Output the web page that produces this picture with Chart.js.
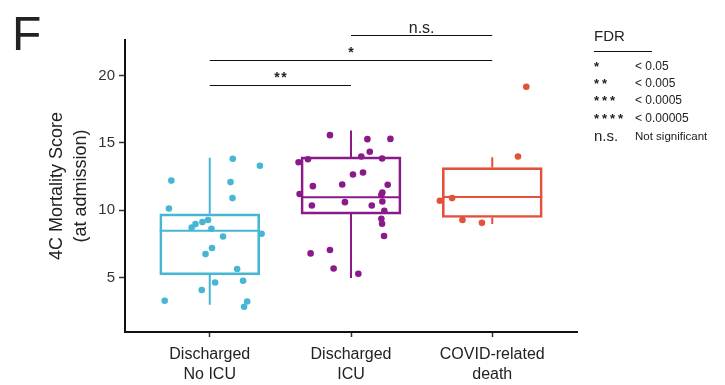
<!DOCTYPE html>
<html>
<head>
<meta charset="utf-8">
<script src="https://cdn.jsdelivr.net/npm/chart.js@4.4.1/dist/chart.umd.min.js"></script>
<style>
html, body { margin: 0; padding: 0; background: #fff; }
#wrap { position: relative; width: 725px; height: 385px; }
</style>
</head>
<body>
<div id="wrap"><canvas id="chart" width="725" height="385"></canvas></div>
<script>
const FONT = '"Liberation Sans", Arial, Helvetica, sans-serif';

// groups on the x axis
const groupLabels = [['Discharged', 'No ICU'], ['Discharged', 'ICU'], ['COVID-related', 'death']];
const groupPos = [1, 2, 3];
const colors = ['#47b6d2', '#8b1a89', '#e2513a'];
const yTicks = [5, 10, 15, 20];

// box stats
const q1 = [5.20, 9.71, 9.46];
const q3 = [9.73, 13.96, 13.17];
const medians = [8.47, 10.97, 10.99];
const whiskerLow = [2.98, 4.96, 8.97];
const whiskerHigh = [13.9, 15.92, 13.94];

// jittered points: x = jitter position, y = score
const noIcuX = [1.163, 1.355, 0.728, 1.147, 1.161, 0.711, 0.988, 0.948, 0.899, 0.872, 1.012, 1.367, 1.094,
    1.016, 0.970, 1.194, 1.236, 1.038, 0.943, 0.681, 1.265, 1.243];
const noIcuY = [13.82, 13.30, 12.20, 12.09, 10.90, 10.13, 9.27, 9.12, 8.97, 8.72, 8.62, 8.25, 8.05,
    7.19, 6.74, 5.63, 4.76, 4.63, 4.07, 3.27, 3.22, 2.83];

const icuX = [1.851, 2.116, 2.279, 2.133, 2.073, 2.220, 1.629, 1.695, 2.085, 2.014, 2.260, 1.730, 1.938, 2.222,
    1.636, 2.215, 1.957, 2.222, 1.723, 2.147, 2.236, 2.215, 2.220, 2.234, 1.851, 1.714, 1.877, 2.052];
const icuY = [15.58, 15.28, 15.30, 14.34, 13.99, 13.84, 13.57, 13.79, 12.80, 12.65, 11.89, 11.79, 11.91, 11.31,
    11.20, 11.14, 10.60, 10.65, 10.35, 10.35, 9.96, 9.36, 8.99, 8.08, 7.04, 6.79, 5.67, 5.28];

const deathX = [3.241, 3.182, 2.716, 2.629, 2.789, 2.927];
const deathY = [19.18, 13.99, 10.90, 10.70, 9.27, 9.06];

// significance brackets
const bracketFrom = [1, 1, 2];
const bracketTo = [2, 3, 3];
const bracketLevel = [19.3, 21.15, 23.0];
const bracketLabel = ['**', '*', 'n.s.'];

// FDR key
const fdrSymbols = ['*', '**', '***', '****', 'n.s.'];
const fdrText = ['< 0.05', '< 0.005', '< 0.0005', '< 0.00005', 'Not significant'];

function toPoints(xs, ys) {
    return xs.map((x, i) => ({ x: x, y: ys[i] }));
}

function drawStars(ctx, cx, cy, n, size, gap) {
    ctx.font = 'bold ' + size + 'px ' + FONT;
    ctx.textAlign = 'center';
    ctx.textBaseline = 'alphabetic';
    for (let i = 0; i < n; i++) {
        ctx.fillText('*', cx + (i - (n - 1) / 2) * gap, cy + 0.34 * size);
    }
}

// whiskers and median lines
const boxParts = {
    id: 'boxParts',
    beforeDatasetsDraw(chart) {
        const ctx = chart.ctx;
        const x = chart.scales.x;
        const y = chart.scales.y;
        const meta = chart.getDatasetMeta(3);
        ctx.save();
        groupPos.forEach((g, i) => {
            const bar = meta.data[i];
            const cx = x.getPixelForValue(g);
            ctx.strokeStyle = colors[i];
            ctx.lineWidth = 2;
            ctx.beginPath();
            ctx.moveTo(cx, y.getPixelForValue(q3[i]));
            ctx.lineTo(cx, y.getPixelForValue(whiskerHigh[i]));
            ctx.moveTo(cx, y.getPixelForValue(q1[i]));
            ctx.lineTo(cx, y.getPixelForValue(whiskerLow[i]));
            const m = y.getPixelForValue(medians[i]);
            ctx.moveTo(bar.x - bar.width / 2, m);
            ctx.lineTo(bar.x + bar.width / 2, m);
            ctx.stroke();
        });
        ctx.restore();
    }
};

// panel letter, brackets, FDR key
const notes = {
    id: 'notes',
    afterDraw(chart) {
        const ctx = chart.ctx;
        const x = chart.scales.x;
        const y = chart.scales.y;
        ctx.save();
        ctx.fillStyle = '#222';
        ctx.font = '48px ' + FONT;
        ctx.textAlign = 'left';
        ctx.textBaseline = 'alphabetic';
        ctx.fillText('F', 12, 50);

        ctx.strokeStyle = '#111';
        ctx.lineWidth = 1.2;
        bracketFrom.forEach((f, i) => {
            const x1 = x.getPixelForValue(f);
            const x2 = x.getPixelForValue(bracketTo[i]);
            const yy = Math.round(y.getPixelForValue(bracketLevel[i])) + 0.5;
            ctx.beginPath();
            ctx.moveTo(x1, yy);
            ctx.lineTo(x2, yy);
            ctx.stroke();
            const mid = (x1 + x2) / 2;
            const lab = bracketLabel[i];
            ctx.fillStyle = '#222';
            if (lab.indexOf('*') === 0) {
                drawStars(ctx, mid, yy - 8, lab.length, 14, 7);
            } else {
                ctx.font = '16px ' + FONT;
                ctx.textAlign = 'center';
                ctx.textBaseline = 'alphabetic';
                ctx.fillText(lab, mid, yy - 3);
            }
        });

        // key
        const kx = 594;
        ctx.fillStyle = '#222';
        ctx.font = '15px ' + FONT;
        ctx.textAlign = 'left';
        ctx.textBaseline = 'middle';
        ctx.fillText('FDR', kx, 37);
        ctx.lineWidth = 1.2;
        ctx.beginPath();
        ctx.moveTo(kx, 51.5);
        ctx.lineTo(652, 51.5);
        ctx.stroke();
        const rowY = [67, 84, 101, 119, 137];
        fdrSymbols.forEach((s, i) => {
            const ry = rowY[i];
            if (s.indexOf('*') === 0) {
                drawStars(ctx, kx + 2.5 + (s.length - 1) * 4, ry, s.length, 13, 8);
            } else {
                ctx.font = '15px ' + FONT;
                ctx.textAlign = 'left';
                ctx.textBaseline = 'middle';
                ctx.fillText(s, kx, ry);
            }
            ctx.font = (i === 4 ? '11.5px ' : '12px ') + FONT;
            ctx.textAlign = 'left';
            ctx.textBaseline = 'middle';
            ctx.fillText(fdrText[i], 635, ry);
        });
        ctx.restore();
    }
};

const config = {
    type: 'bar',
    data: {
        datasets: [{
            type: 'scatter',
            data: toPoints(noIcuX, noIcuY),
            backgroundColor: colors[0],
            borderWidth: 0,
            pointRadius: 3.3,
            order: 0
        }, {
            type: 'scatter',
            data: toPoints(icuX, icuY),
            backgroundColor: colors[1],
            borderWidth: 0,
            pointRadius: 3.3,
            order: 0
        }, {
            type: 'scatter',
            data: toPoints(deathX, deathY),
            backgroundColor: colors[2],
            borderWidth: 0,
            pointRadius: 3.3,
            order: 0
        }, {
            type: 'bar',
            data: groupPos.map((g, i) => ({ x: g, y: [q1[i], q3[i]] })),
            backgroundColor: 'rgba(0,0,0,0)',
            borderColor: colors,
            borderWidth: 2,
            borderSkipped: false,
            barThickness: 100,
            order: 1
        }]
    },
    options: {
        animation: false,
        responsive: false,
        devicePixelRatio: 1,
        layout: { padding: { left: 0, right: 148, top: 40, bottom: 0 } },
        plugins: {
            legend: { display: false },
            tooltip: { enabled: false }
        },
        scales: {
            x: {
                type: 'linear',
                min: 0.4,
                max: 3.6,
                offset: false,
                afterBuildTicks: s => { s.ticks = groupPos.map(v => ({ value: v })); },
                afterFit: s => { s.height = 53; },
                grid: { drawOnChartArea: false, offset: false, tickLength: 5, tickColor: '#333', tickWidth: 1.5 },
                border: { display: true, color: '#111', width: 2 },
                ticks: {
                    callback: v => groupLabels[groupPos.indexOf(v)],
                    font: { family: FONT, size: 16, lineHeight: 1.25 },
                    color: '#222',
                    padding: 8,
                    maxRotation: 0,
                    autoSkip: false
                }
            },
            y: {
                min: 0.95,
                max: 22.65,
                afterBuildTicks: s => { s.ticks = yTicks.map(v => ({ value: v })); },
                afterFit: s => { s.width = 125; },
                grid: { drawOnChartArea: false, tickLength: 6, tickColor: '#333', tickWidth: 1.5 },
                border: { display: true, color: '#111', width: 2 },
                ticks: {
                    font: { family: FONT, size: 15 },
                    color: '#333',
                    padding: 4
                },
                title: {
                    display: true,
                    text: ['4C Mortality Score', '(at admission)'],
                    font: { family: FONT, size: 18, lineHeight: 1.35 },
                    color: '#222',
                    padding: { top: 45, bottom: 0 }
                }
            }
        }
    },
    plugins: [boxParts, notes]
};

const myChart = new Chart(document.getElementById('chart'), config);
</script>
</body>
</html>
